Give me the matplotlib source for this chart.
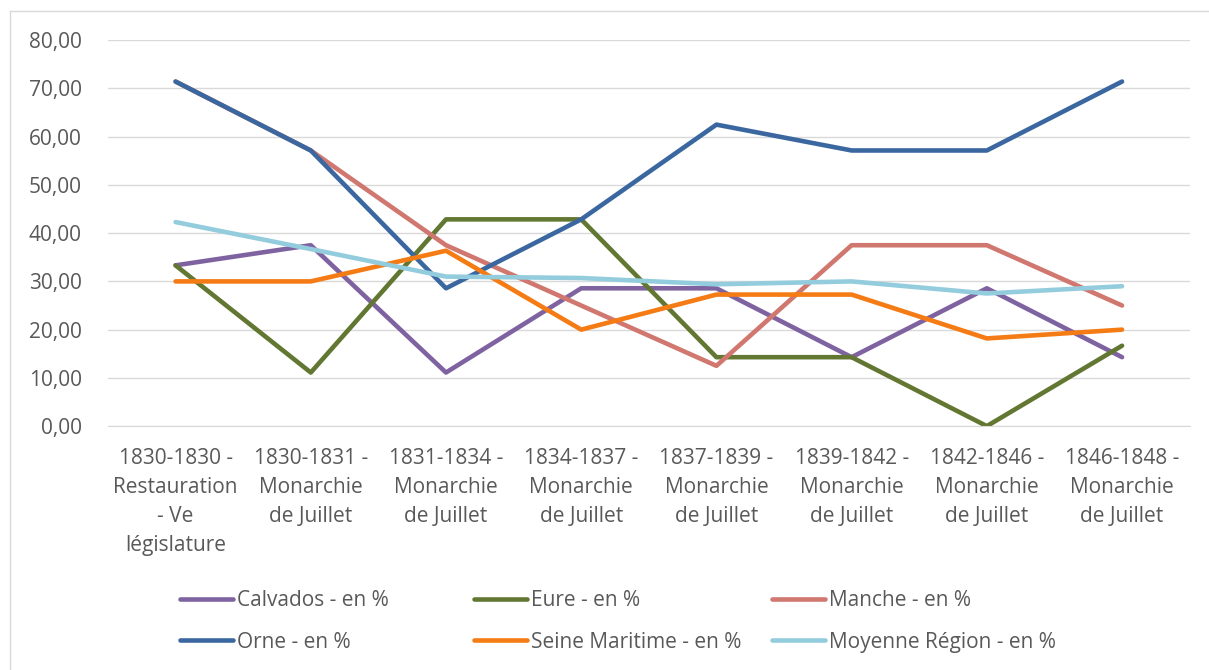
import matplotlib
matplotlib.use("Agg")
import matplotlib.pyplot as plt
from matplotlib.lines import Line2D

categories = [
    "1830-1830 -\nRestauration\n- Ve\nlégislature",
    "1830-1831 -\nMonarchie\nde Juillet",
    "1831-1834 -\nMonarchie\nde Juillet",
    "1834-1837 -\nMonarchie\nde Juillet",
    "1837-1839 -\nMonarchie\nde Juillet",
    "1839-1842 -\nMonarchie\nde Juillet",
    "1842-1846 -\nMonarchie\nde Juillet",
    "1846-1848 -\nMonarchie\nde Juillet",
]
calvados = [33.33, 37.50, 11.11, 28.57, 28.57, 14.29, 28.57, 14.29]
eure = [33.33, 11.11, 42.86, 42.86, 14.29, 14.29, 0.00, 16.67]
manche = [71.43, 57.14, 37.50, 25.00, 12.50, 37.50, 37.50, 25.00]
orne = [71.43, 57.14, 28.57, 42.86, 62.50, 57.14, 57.14, 71.43]
seine = [30.00, 30.00, 36.36, 20.00, 27.27, 27.27, 18.18, 20.00]
moyenne = [42.3, 36.7, 31.0, 30.7, 29.4, 30.0, 27.5, 29.0]

series = [
    ("Calvados - en %", calvados, "#7F63A1"),
    ("Eure - en %", eure, "#627731"),
    ("Manche - en %", manche, "#D0776F"),
    ("Orne - en %", orne, "#3B67A0"),
    ("Seine Maritime - en %", seine, "#F57B15"),
    ("Moyenne Région - en %", moyenne, "#93CDDD"),
]

plt.rcParams['font.family'] = ['Open Sans', 'DejaVu Sans']
txt = "#595959"
fs = 15

fig = plt.figure(figsize=(12.09, 6.70), dpi=100)
fig.patch.set_facecolor("white")
ax = fig.add_axes([0.0893, 0.364, 0.8947, 0.576])
x = list(range(len(categories)))
lines = []
for name, vals, col in series:
    ln, = ax.plot(x, vals, color=col, lw=3.3, solid_capstyle='round', solid_joinstyle='round', label=name)
    lines.append(ln)

ax.set_xlim(-0.5, 7.5)
ax.set_ylim(0, 80)
ax.set_yticks(range(0, 81, 10))
ax.set_yticklabels([f"{v:.2f}".replace(".", ",") for v in range(0, 81, 10)], fontsize=fs, color=txt)
ax.set_xticks(x)
ax.set_xticklabels(categories, fontsize=fs, color=txt, linespacing=1.5)
ax.tick_params(axis='y', length=0, pad=19)
ax.tick_params(axis='x', length=0, pad=16)
ax.grid(axis='y', color='#D9D9D9', lw=1)
ax.set_axisbelow(True)
for s in ['top', 'right', 'left']:
    ax.spines[s].set_visible(False)
ax.spines['bottom'].set_color('#D9D9D9')

# legend: three columns, row-major order as in the reference
col_x = [0.1489, 0.3920, 0.6386]
for c in range(3):
    hs = [lines[c], lines[c + 3]]
    ls = [series[c][0], series[c + 3][0]]
    fig.legend(hs, ls, loc='upper left', bbox_to_anchor=(col_x[c], 0.119),
               frameon=False, fontsize=fs, labelcolor=txt, handlelength=2.55,
               handletextpad=0.2, labelspacing=0.98, borderpad=0, borderaxespad=0)

# chart frame (left and top edges visible)
fig.add_artist(Line2D([10 / 1209, 10 / 1209], [0, 1 - 11 / 670], transform=fig.transFigure,
                      color='#D9D9D9', lw=1))
fig.add_artist(Line2D([10 / 1209, 1], [1 - 11 / 670, 1 - 11 / 670], transform=fig.transFigure,
                      color='#D9D9D9', lw=1))

fig.savefig("out.png", dpi=100)
